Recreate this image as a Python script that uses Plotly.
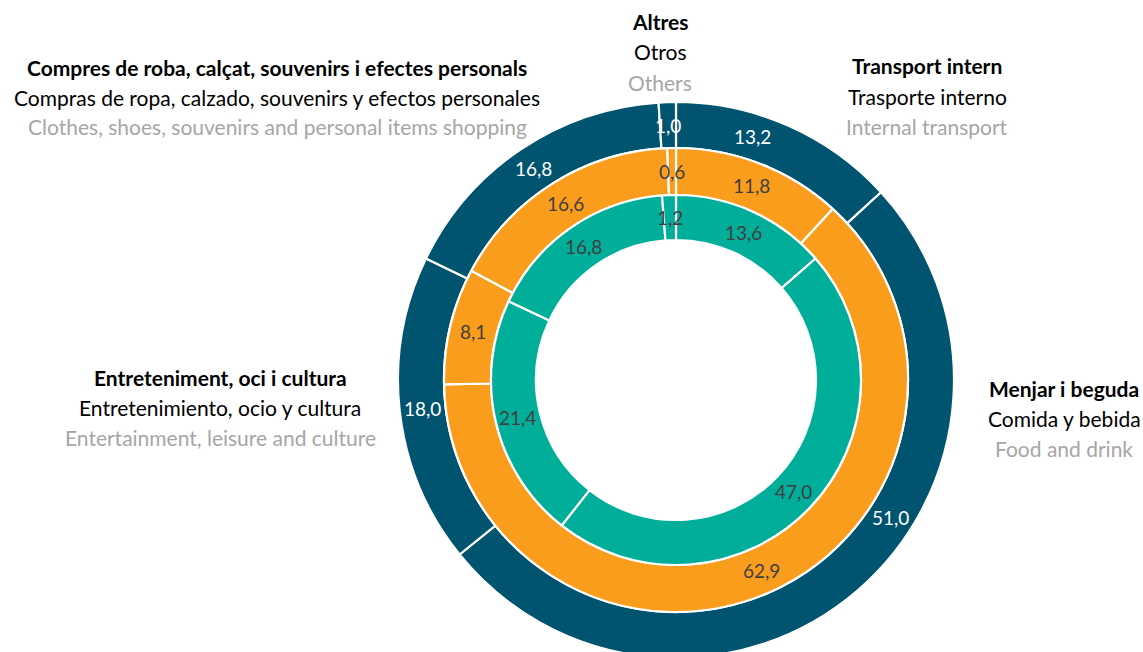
import math
import plotly.graph_objects as go

# ---------------- data ----------------
categories_ca = ["Transport intern", "Menjar i beguda", "Entreteniment, oci i cultura",
                 "Compres de roba, calçat, souvenirs i efectes personals", "Altres"]
categories_es = ["Trasporte interno", "Comida y bebida", "Entretenimiento, ocio y cultura",
                 "Compras de ropa, calzado, souvenirs y efectos personales", "Otros"]
categories_en = ["Internal transport", "Food and drink", "Entertainment, leisure and culture",
                 "Clothes, shoes, souvenirs and personal items shopping", "Others"]

outer_values = [13.2, 51.0, 18.0, 16.8, 1.0]    # dark blue ring
middle_values = [11.8, 62.9, 8.1, 16.6, 0.6]    # orange ring
inner_values = [13.6, 47.0, 21.4, 16.8, 1.2]    # teal ring

# ---------------- layout constants ----------------
W, H = 1143, 660
CX, CY = 676, 380                 # centre in pixels (from top-left)
RADII = [278, 232, 185, 140]      # ring boundaries, outer -> hole
FONT = "Lato"
# small angular nudges (degrees) of some value labels, as placed in the original
LABEL_ANGLE_NUDGE = {(0, 0): -6.4, (0, 1): -16.7}

rings = [
    (outer_values, "#00546F", "#FFFFFF"),
    (middle_values, "#FA9D1C", "#404040"),
    (inner_values, "#00AE99", "#404040"),
]

def px_to_paper(x, y):
    return x / W, 1 - y / H

fig = go.Figure()
annotations = []

for i, (vals, color, tcolor) in enumerate(rings):
    r_out, r_in = RADII[i], RADII[i + 1]
    fig.add_trace(go.Pie(
        values=vals,
        labels=categories_ca,
        sort=False,
        direction="clockwise",
        rotation=0,
        hole=r_in / r_out,
        marker=dict(colors=[color] * len(vals), line=dict(color="white", width=2.2)),
        textinfo="none",
        hoverinfo="label+value",
        showlegend=False,
        domain=dict(x=[(CX - r_out) / W, (CX + r_out) / W],
                    y=[(H - CY - r_out) / H, (H - CY + r_out) / H]),
    ))
    # value labels at the middle of each slice
    total = sum(vals)
    cum = 0.0
    r_mid = (r_out + r_in) / 2
    for j, v in enumerate(vals):
        ang = (cum + v / 2) / total * 2 * math.pi + math.radians(LABEL_ANGLE_NUDGE.get((i, j), 0))
        cum += v
        x = CX + r_mid * math.sin(ang)
        y = CY - r_mid * math.cos(ang)
        px, py = px_to_paper(x, y)
        annotations.append(dict(
            x=px, y=py, xref="paper", yref="paper", showarrow=False,
            text=f"{v:.1f}".replace(".", ","),
            font=dict(family=FONT, size=19, color=tcolor),
            xanchor="center", yanchor="middle",
        ))

# category labels (three lines each)
label_anchor = [(927, 66), (1064, 388), (220, 377), (277, 67), (660, 22)]
LINE = 30
for (ax, ay), ca, es, en in zip(label_anchor, categories_ca, categories_es, categories_en):
    for k, (txt, col, bold) in enumerate([(ca, "#000000", True), (es, "#000000", False), (en, "#A6A6A6", False)]):
        px, py = px_to_paper(ax, ay + k * LINE)
        annotations.append(dict(
            x=px, y=py, xref="paper", yref="paper", showarrow=False,
            text=f"<b>{txt}</b>" if bold else txt,
            font=dict(family=FONT, size=21, color=col),
            xanchor="center", yanchor="middle",
        ))

fig.update_layout(
    width=W, height=H,
    margin=dict(l=0, r=0, t=0, b=0),
    paper_bgcolor="white", plot_bgcolor="white",
    annotations=annotations,
    font=dict(family=FONT),
)

fig.write_html("out.html",
               config={"displayModeBar": False},
               post_script="document.body.style.margin='0';document.body.style.overflow='hidden';")
